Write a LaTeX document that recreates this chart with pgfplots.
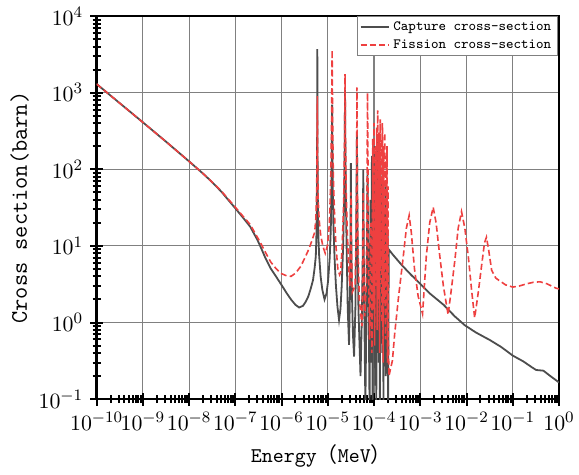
\documentclass[border=0pt]{standalone}
\usepackage{fontspec}
\newfontfamily\cjk{Noto Sans CJK SC}
\usepackage{pgfplots}
\pgfplotsset{compat=1.18}

\definecolor{capgray}{RGB}{77,77,77}
\definecolor{fisred}{RGB}{238,64,64}
\definecolor{gridgray}{RGB}{128,128,128}

\begin{document}
\begin{tikzpicture}
\begin{axis}[
  scale only axis,
  width=231.2bp, height=191.5bp,
  xmode=log, ymode=log,
  xmin=1e-10, xmax=1, ymin=1e-1, ymax=1e4,
  xtickten={-10,-9,...,0},
  ytickten={-1,0,...,4},
  tick pos=left,
  tick align=center,
  major tick length=6.5bp,
  minor tick length=4bp,
  every tick/.style={black, line width=1bp},
  axis line style={line width=1.1bp},
  grid=major,
  major grid style={gridgray, line width=0.55bp},
  ticklabel style={font=\fontsize{11}{13}\selectfont},
  xlabel={Energy{\cjk （}MeV{\cjk ）}},
  ylabel={Cross section(barn)},
  xlabel style={font=\ttfamily\fontsize{10.5}{12}\selectfont, at={(ticklabel cs:0.486)}, yshift=0bp},
  ylabel style={font=\ttfamily\fontsize{11.9}{13}\selectfont, yshift=-2bp},
  legend style={at={(0.997,1)}, anchor=north east, draw=gridgray, line width=0.4bp,
    fill=white, font=\ttfamily\fontsize{7.1}{8}\selectfont, inner xsep=1bp, inner ysep=0.4bp,
    row sep=-0.8bp},
  legend cell align=left,
  legend image code/.code={\draw[#1] (0bp,0bp) -- (14bp,0bp);},
]

% capture cross-section
\addplot[capgray, line width=0.9bp] coordinates {
(1e-10,1300) (3e-10,750) (1e-9,411) (3e-9,236) (1e-8,127) (2e-8,88)
(3e-8,70) (5e-8,51) (7e-8,40) (1e-7,31) (1.5e-7,23) (2.1e-7,17.8)
(3e-7,12) (3.5e-7,9.8) (4.5e-7,6.9) (5.8e-7,5.1) (8e-7,3.8) (1.03e-6,3.0)
(1.3e-6,2.4) (1.6e-6,2.0) (2.0e-6,1.7) (2.4e-6,1.57) (2.9e-6,1.65)
(3.3e-6,1.85) (3.8e-6,2.2) (4.3e-6,2.8) (4.8e-6,3.6) (5.2e-6,5.2)
(5.5e-6,7.3) (5.65e-6,12) (5.75e-6,22) (5.83e-6,60) (5.88e-6,200)
(5.94e-6,3700) (6.0e-6,200) (6.05e-6,60) (6.15e-6,24) (6.3e-6,12)
(6.5e-6,7.5) (7.0e-6,4.0) (7.6e-6,2.7) (8.5e-6,2.0) (9.4e-6,2.4)
(1.02e-5,3.6) (1.1e-5,7) (1.16e-5,16) (1.2e-5,60) (1.22e-5,160)
(1.24e-5,700) (1.26e-5,160) (1.28e-5,60) (1.32e-5,20) (1.4e-5,7)
(1.5e-5,3) (1.62e-5,1.6) (1.75e-5,1.08) (1.88e-5,1.5) (2.0e-5,3)
(2.15e-5,10) (2.27e-5,50) (2.32e-5,200) (2.36e-5,1100) (2.4e-5,200)
(2.45e-5,50) (2.55e-5,10) (2.7e-5,1.5) (2.88e-5,0.51) (3.02e-5,2.5)
(3.1e-5,15) (3.16e-5,120) (3.22e-5,15) (3.32e-5,2.5) (3.5e-5,0.7)
(3.7e-5,0.36) (3.95e-5,1.5) (4.12e-5,15) (4.27e-5,300) (4.4e-5,15)
(4.6e-5,1.5) (5.1e-5,0.2) (5.5e-5,1.5) (5.7e-5,8) (5.85e-5,100)
(6.0e-5,8) (6.2e-5,1) (6.5e-5,0.08) (6.85e-5,1.5) (7.05e-5,10)
(7.24e-5,90) (7.45e-5,10) (7.7e-5,1) (8.0e-5,0.08)
(8.4e-5,40) (8.7e-5,0.3) (9.0e-5,150) (9.3e-5,0.08) (9.6e-5,60)
(9.9e-5,0.5) (1.02e-4,200) (1.06e-4,0.15) (1.09e-4,40) (1.12e-4,0.08)
(1.15e-4,100) (1.19e-4,1.0) (1.22e-4,250) (1.26e-4,0.3) (1.3e-4,30)
(1.34e-4,0.08) (1.38e-4,120) (1.42e-4,2) (1.46e-4,80) (1.5e-4,0.4)
(1.55e-4,50) (1.6e-4,0.08) (1.65e-4,30) (1.7e-4,1.5) (1.75e-4,60)
(1.8e-4,0.2) (1.86e-4,25) (1.92e-4,0.5) (1.97e-4,15) (2.02e-4,0.08)
(2.08e-4,9)
(2.5e-4,7.8) (4e-4,5.6) (6.3e-4,4.2) (1e-3,3.2) (1.6e-3,2.4)
(3.2e-3,1.7) (5.6e-3,1.2) (9.2e-3,0.92) (1.6e-2,0.74) (3.2e-2,0.59)
(5.6e-2,0.48) (1e-1,0.37) (1.7e-1,0.31) (2.6e-1,0.26) (3.2e-1,0.24)
(4.6e-1,0.235) (6.5e-1,0.2) (1.0,0.165)
};
\addlegendentry{Capture cross-section}

% fission cross-section
\addplot[fisred, line width=0.8bp, dash pattern=on 3bp off 1.6bp] coordinates {
(1e-10,1300) (3e-10,750) (1e-9,411) (3e-9,236) (1e-8,127) (2e-8,88)
(3e-8,70) (5e-8,52) (7e-8,41) (1e-7,32) (1.5e-7,24) (2.1e-7,19)
(3.5e-7,11) (4.5e-7,8.2) (5.8e-7,6.2) (7.5e-7,5.1) (9.5e-7,4.4)
(1.25e-6,4.1) (1.6e-6,4.0) (2.0e-6,4.4) (2.6e-6,5.4) (3.2e-6,7)
(3.9e-6,9.1) (4.6e-6,12) (5.2e-6,15) (5.5e-6,22) (5.7e-6,40)
(5.82e-6,100) (5.88e-6,250) (5.94e-6,900) (6.0e-6,250) (6.06e-6,100)
(6.2e-6,40) (6.5e-6,22) (7.0e-6,14) (7.8e-6,10) (8.8e-6,8)
(9.8e-6,10) (1.05e-5,15) (1.1e-5,25) (1.16e-5,80) (1.2e-5,300)
(1.24e-5,3600) (1.28e-5,300) (1.32e-5,80) (1.4e-5,25) (1.5e-5,10)
(1.65e-5,5) (1.8e-5,4.2) (1.9e-5,4.5) (2.05e-5,10) (2.2e-5,35)
(2.32e-5,300) (2.36e-5,1750) (2.4e-5,300) (2.5e-5,50) (2.6e-5,20)
(2.8e-5,6) (3.0e-5,3) (3.1e-5,10) (3.16e-5,50) (3.22e-5,10)
(3.4e-5,2.5) (3.9e-5,3) (4.1e-5,15) (4.2e-5,80) (4.27e-5,1170)
(4.34e-5,80) (4.45e-5,15) (4.8e-5,2) (5.5e-5,0.9) (5.7e-5,5)
(5.85e-5,50) (6.0e-5,5) (6.3e-5,1.2) (6.8e-5,3) (7.0e-5,30)
(7.24e-5,1000) (7.5e-5,30) (7.7e-5,3) (8.0e-5,0.6)
(8.6e-5,20) (9.0e-5,0.4) (9.4e-5,250) (9.7e-5,1.5) (1.0e-4,400)
(1.03e-4,0.5) (1.07e-4,200) (1.1e-4,3) (1.14e-4,350) (1.17e-4,0.8)
(1.2e-4,590) (1.24e-4,2) (1.28e-4,300) (1.32e-4,0.4) (1.36e-4,450)
(1.4e-4,5) (1.44e-4,250) (1.48e-4,1) (1.52e-4,400) (1.57e-4,0.3)
(1.62e-4,200) (1.66e-4,2) (1.71e-4,300) (1.76e-4,0.6) (1.81e-4,150)
(1.86e-4,3) (1.91e-4,200) (1.96e-4,0.3) (2.0e-4,60) (2.05e-4,0.5)
(2.1e-4,0.2) (2.5e-4,0.32) (2.8e-4,0.72) (3.4e-4,2.2) (4.2e-4,6.5)
(5.0e-4,17) (5.75e-4,25) (6.4e-4,15) (7.5e-4,5) (9.0e-4,2.2)
(1.12e-3,1.3) (1.35e-3,7.3) (1.6e-3,20) (1.9e-3,32) (2.2e-3,20)
(2.6e-3,8) (3.16e-3,3) (4.0e-3,1.26) (4.8e-3,3) (5.6e-3,6.5)
(6.6e-3,17) (7.8e-3,28) (9.2e-3,17) (1.1e-2,7) (1.3e-2,2.5)
(1.5e-2,1.15) (1.8e-2,2.5) (2.1e-2,5.3) (2.45e-2,11) (2.7e-2,13)
(3.0e-2,9) (3.5e-2,4.8) (4.3e-2,3.8) (5.2e-2,3.5) (7e-2,3.1)
(1.0e-1,2.9) (1.4e-1,3.0) (2.0e-1,3.2) (2.8e-1,3.35) (3.9e-1,3.4)
(5.5e-1,3.2) (8.7e-1,2.8) (1.0,2.75)
};
\addlegendentry{Fission cross-section}
\end{axis}
\pgfresetboundingbox
\path[use as bounding box] ([shift={(-48.3bp,-37.5bp)}]current axis.south west)
  rectangle ([shift={(10bp,8.05bp)}]current axis.north east);
\end{tikzpicture}
\end{document}
